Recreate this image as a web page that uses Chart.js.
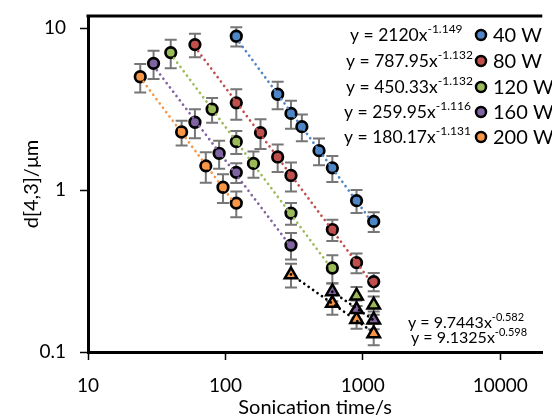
<!DOCTYPE html>
<html lang="en">
<head>
  <meta charset="UTF-8" />
  <title>Particle size vs sonication time</title>
  <script src="https://cdn.jsdelivr.net/npm/chart.js"></script>
  <style>
    html, body { margin: 0; padding: 0; background: #fff; }
    canvas { display: block; }
  </style>
</head>
<body>
  <canvas id="sizeChart" width="552" height="419"></canvas>

  <script>
    // --- data ---
    const powers = ["40 W", "80 W", "120 W", "160 W", "200 W"];
    const colours = ["#4f86c6", "#c0504d", "#9bbb59", "#8064a2", "#f79646"];

    const t40 = [120, 240, 300, 360, 480, 600, 900, 1200];
    const d40 = [8.9, 3.9, 2.97, 2.46, 1.75, 1.37, 0.86, 0.64];
    const e40 = [1.2, 0.75, 0.58, 0.46, 0.33, 0.25, 0.14, 0.09];

    const t80 = [60, 120, 180, 240, 300, 600, 900, 1200];
    const d80 = [7.9, 3.45, 2.26, 1.6, 1.23, 0.57, 0.356, 0.272];
    const e80 = [1.3, 0.74, 0.47, 0.31, 0.25, 0.085, 0.05, 0.035];

    const t120 = [40, 80, 120, 160, 300, 600];
    const d120 = [7.05, 3.15, 1.99, 1.46, 0.72, 0.33];
    const e120 = [1.4, 0.55, 0.32, 0.27, 0.11, 0.065];

    const t160 = [30, 60, 90, 120, 300];
    const d160 = [6.05, 2.62, 1.685, 1.285, 0.457];
    const e160 = [1.2, 0.53, 0.33, 0.18, 0.085];

    const t200 = [24, 48, 72, 96, 120];
    const d200 = [5.0, 2.28, 1.41, 1.04, 0.83];
    const e200 = [1.0, 0.4, 0.3, 0.21, 0.15];

    // second regime (triangles)
    const t120b = [900, 1200];
    const d120b = [0.222, 0.195];
    const e120b = [0.03, 0.025];

    const t160b = [600, 900, 1200];
    const d160b = [0.236, 0.183, 0.158];
    const e160b = [0.03, 0.025, 0.02];

    const t200b = [300, 600, 900, 1200];
    const d200b = [0.3, 0.2, 0.159, 0.13];
    const e200b = [0.05, 0.03, 0.02, 0.02];

    // power-law trendlines y = a x^b
    const fitA = [2120, 787.95, 450.33, 259.95, 180.17];
    const fitB = [-1.149, -1.132, -1.132, -1.116, -1.131];
    const fitAText = ["2120", "787.95", "450.33", "259.95", "180.17"];
    const fitBText = ["-1.149", "-1.132", "-1.132", "-1.116", "-1.131"];

    const fitA2 = [9.7443, 9.1325];
    const fitB2 = [-0.582, -0.598];
    const fitA2Text = ["9.7443", "9.1325"];
    const fitB2Text = ["-0.582", "-0.598"];

    const xTicks = [10, 100, 1000, 10000];
    const yTicks = [0.1, 1, 10];

    const FONT = "Lato";
    const circleSets = [[t40, d40, e40], [t80, d80, e80], [t120, d120, e120], [t160, d160, e160], [t200, d200, e200]];
    const triSets = [[2, t120b, d120b, e120b], [3, t160b, d160b, e160b], [4, t200b, d200b, e200b]];
    const triFits = [[3, t160b], [4, t200b]]; // black dotted fits

    const toPts = (xs, ys) => xs.map((x, i) => ({ x: x, y: ys[i] }));
    const fitLine = (a, b, xs) => {
      const x0 = xs[0], x1 = xs[xs.length - 1];
      return [{ x: x0, y: a * Math.pow(x0, b) }, { x: x1, y: a * Math.pow(x1, b) }];
    };

    const dotted = (colour) => ({
      type: "line",
      borderColor: colour,
      borderWidth: 2.7,
      borderDash: [0.01, 5.4],
      borderCapStyle: "round",
      pointRadius: 0,
      fill: false,
      order: 1
    });

    const datasets = [];
    circleSets.forEach(([t, d, e], i) => {
      datasets.push({
        label: powers[i],
        data: toPts(t, d),
        errors: e,
        pointStyle: "circle",
        pointRadius: 5.3,
        pointBackgroundColor: colours[i],
        pointBorderColor: "#000",
        pointBorderWidth: 2.7,
        showLine: false,
        order: 2
      });
    });
    triSets.forEach(([k, t, d, e]) => {
      datasets.push({
        label: powers[k] + " (2)",
        data: toPts(t, d),
        errors: e,
        pointStyle: "triangle",
        pointRadius: 7.2,
        pointBackgroundColor: colours[k],
        pointBorderColor: "#000",
        pointBorderWidth: 2.5,
        showLine: false,
        order: 2
      });
    });
    circleSets.forEach(([t], i) => {
      datasets.push(Object.assign(dotted(colours[i]), { data: fitLine(fitA[i], fitB[i], t) }));
    });
    triFits.forEach(([k, t], j) => {
      datasets.push(Object.assign(dotted("#000"), { data: fitLine(fitA2[j], fitB2[j], t) }));
    });

    // error bars, drawn under the markers
    const errorBars = {
      id: "errorBars",
      beforeDatasetsDraw(chart) {
        const { ctx, scales: { x, y } } = chart;
        ctx.save();
        ctx.strokeStyle = "#767676";
        ctx.lineWidth = 2;
        chart.data.datasets.forEach(ds => {
          if (!ds.errors) return;
          ds.data.forEach((p, i) => {
            const e = ds.errors[i];
            const px = x.getPixelForValue(p.x);
            const top = y.getPixelForValue(p.y + e);
            const bot = y.getPixelForValue(p.y - e);
            ctx.beginPath();
            ctx.moveTo(px, top); ctx.lineTo(px, bot);
            ctx.moveTo(px - 6, top); ctx.lineTo(px + 6, top);
            ctx.moveTo(px - 6, bot); ctx.lineTo(px + 6, bot);
            ctx.stroke();
          });
        });
        ctx.restore();
      }
    };

    function drawEquation(ctx, x, y, a, b, size) {
      ctx.font = size + "px " + FONT;
      ctx.textBaseline = "middle";
      ctx.textAlign = "left";
      const main = "y = " + a + "x";
      ctx.fillText(main, x, y);
      const w = ctx.measureText(main).width;
      ctx.font = Math.round(size * 0.7) + "px " + FONT;
      ctx.fillText(b, x + w, y - size * 0.33);
    }

    // frame top line, trendline labels and legend
    const annotations = {
      id: "annotations",
      afterDraw(chart) {
        const { ctx, chartArea } = chart;
        ctx.save();
        ctx.strokeStyle = "#000";
        ctx.lineWidth = 3;
        ctx.beginPath();
        ctx.moveTo(chartArea.left - 1.5, chartArea.top);
        ctx.lineTo(chartArea.right, chartArea.top);
        ctx.stroke();

        ctx.fillStyle = "#000";
        const rowY = [35, 61, 87, 112, 137];
        const eqX = [350, 346, 346, 344, 344];
        powers.forEach((p, i) => {
          drawEquation(ctx, eqX[i], rowY[i], fitAText[i], fitBText[i], 17.5);
          ctx.beginPath();
          ctx.arc(481, rowY[i], 5, 0, Math.PI * 2);
          ctx.fillStyle = colours[i];
          ctx.fill();
          ctx.lineWidth = 2.5;
          ctx.strokeStyle = "#000";
          ctx.stroke();
          ctx.fillStyle = "#000";
          ctx.font = "20px " + FONT;
          ctx.textBaseline = "middle";
          ctx.fillText(p, 493, rowY[i] + 1);
        });
        drawEquation(ctx, 408, 323, fitA2Text[0], fitB2Text[0], 16);
        drawEquation(ctx, 411, 338, fitA2Text[1], fitB2Text[1], 16);
        ctx.restore();
      }
    };

    const axisTicks = {
      display: true,
      drawOnChartArea: false,
      drawTicks: true,
      tickLength: 8,
      tickWidth: 1.5,
      tickColor: "#000"
    };

    new Chart(document.getElementById("sizeChart"), {
      type: "scatter",
      data: { datasets },
      options: {
        responsive: false,
        animation: false,
        layout: { padding: { left: 0, top: 16, right: 0, bottom: 0 } },
        plugins: {
          legend: { display: false },
          tooltip: { enabled: false }
        },
        scales: {
          x: {
            type: "logarithmic",
            min: 10,
            max: 20230,
            afterBuildTicks: s => { s.ticks = xTicks.map(v => ({ value: v })); },
            afterFit: s => { s.height = 67; s.paddingLeft = 0; s.paddingRight = 0; },
            grid: axisTicks,
            border: { display: true, width: 3, color: "#000" },
            ticks: {
              color: "#000",
              padding: 14,
              maxRotation: 0,
              font: { family: FONT, size: 19 },
              callback: v => String(v)
            },
            title: {
              display: true,
              text: "Sonication time/s",
              color: "#000",
              font: { family: FONT, size: 20 },
              padding: { top: 0, bottom: -1 }
            }
          },
          y: {
            type: "logarithmic",
            min: 0.1,
            max: 11.86,
            afterBuildTicks: s => { s.ticks = yTicks.map(v => ({ value: v })); },
            afterFit: s => { s.width = 88; s.paddingTop = 0; s.paddingBottom = 0; },
            grid: axisTicks,
            border: { display: true, width: 3, color: "#000" },
            ticks: {
              color: "#000",
              padding: 14,
              font: { family: FONT, size: 19 },
              callback: v => String(v)
            },
            title: {
              display: true,
              text: "d[4,3]/μm",
              color: "#000",
              font: { family: FONT, size: 20 },
              padding: { top: 20, bottom: 0 }
            }
          }
        }
      },
      plugins: [errorBars, annotations]
    });
  </script>
</body>
</html>
